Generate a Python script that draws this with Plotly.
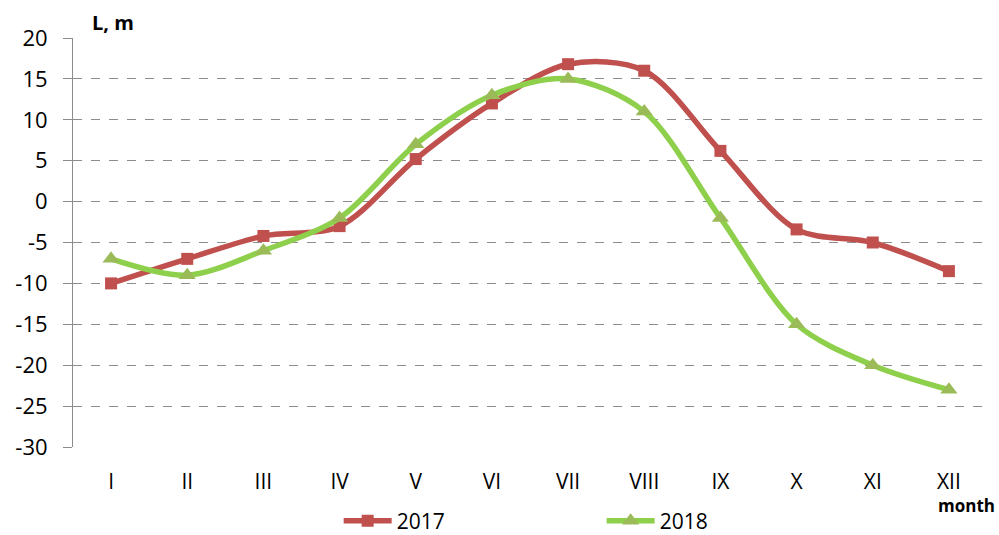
import plotly.graph_objects as go

months = ["I", "II", "III", "IV", "V", "VI", "VII", "VIII", "IX", "X", "XI", "XII"]
y2017 = [-10, -7, -4.2, -3, 5.2, 12, 16.8, 16, 6.2, -3.4, -5, -8.5]
y2018 = [-7, -9, -6, -2, 7, 13, 15, 11, -2, -15, -20, -23]
yticks = [20, 15, 10, 5, 0, -5, -10, -15, -20, -25, -30]
yticktext = [str(v) for v in yticks]

FONT = "Open Sans"

fig = go.Figure()
fig.add_trace(go.Scatter(
    x=months, y=y2017, name="2017", mode="lines+markers",
    line=dict(color="#C0504D", width=5.5, shape="spline", smoothing=0.9),
    marker=dict(symbol="square", size=12, color="#C0504D"),
))
fig.add_trace(go.Scatter(
    x=months, y=y2018, name="2018", mode="lines+markers",
    line=dict(color="#8ED04B", width=5.5, shape="spline", smoothing=0.9),
    marker=dict(symbol="triangle-up", size=15, color="#9BBB59"),
))

fig.update_layout(
    width=999, height=535,
    margin=dict(l=73, r=12, t=38, b=88, autoexpand=False),
    paper_bgcolor="white", plot_bgcolor="white",
    font=dict(family=FONT, size=21, color="#000000"),
    showlegend=True,
    legend=dict(orientation="h", xref="container", yref="container",
                x=0.339, xanchor="left", y=0.026, yanchor="middle",
                entrywidth=200, entrywidthmode="pixels",
                font=dict(family=FONT, size=21), itemwidth=48),
    xaxis=dict(
        type="category", showgrid=False, showline=False, ticks="",
        tickfont=dict(family=FONT, size=21), range=[-0.5, 11.5],
        ticklabelstandoff=20, automargin=False,
    ),
    yaxis=dict(
        range=[-30, 20], tickvals=yticks, ticktext=yticktext,
        showgrid=True, gridcolor="#8C8C8C",
        griddash="dash", gridwidth=1, zeroline=False,
        showline=True, linecolor="#8C8C8C", linewidth=1,
        ticks="outside", ticklen=9, tickcolor="#8C8C8C",
        tickfont=dict(family=FONT, size=22), automargin=False,
        ticklabelstandoff=11,
    ),
    annotations=[
        dict(text="<b>L, m</b>", xref="paper", yref="paper", x=0.044, y=1.0,
             xanchor="center", yanchor="bottom", showarrow=False,
             font=dict(family=FONT, size=20)),
        dict(text="<b>month</b>", xref="paper", yref="paper", x=1.011, y=-0.142,
             xanchor="right", yanchor="middle", showarrow=False,
             font=dict(family=FONT, size=17)),
    ],
)

fig.write_html("out.html", config={"displayModeBar": False},
               post_script="document.body.style.margin='0';")
